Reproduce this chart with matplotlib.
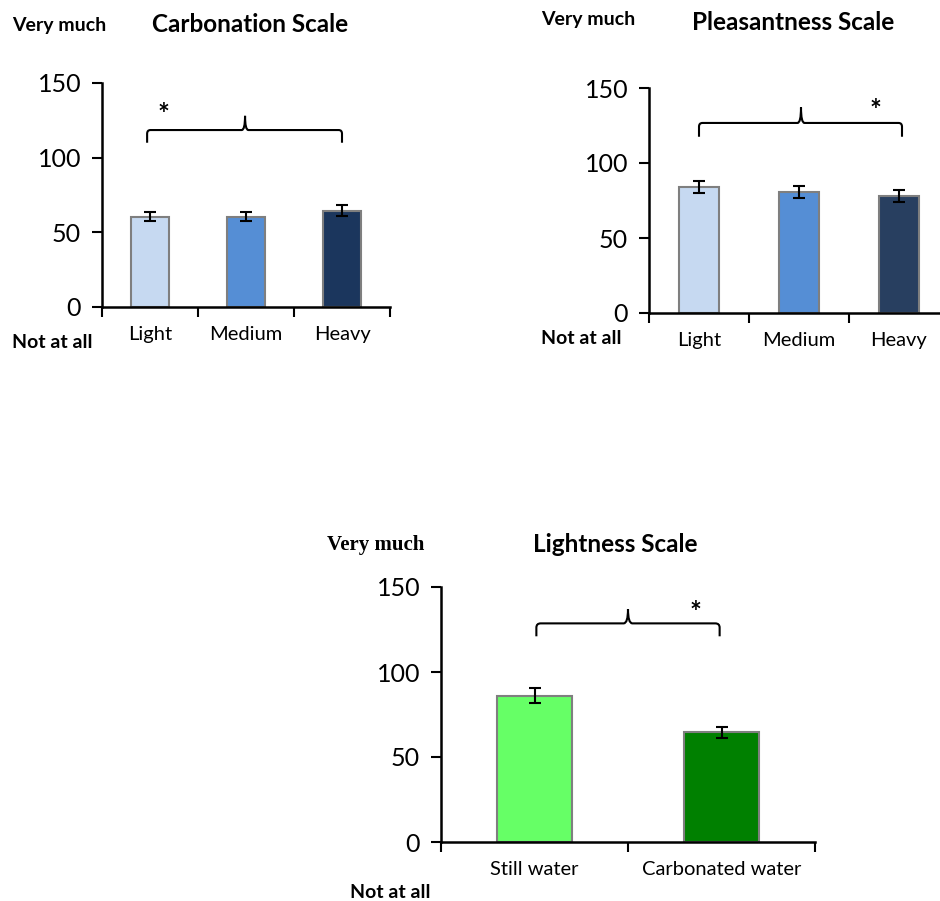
import numpy as np
import matplotlib.pyplot as plt
from matplotlib.path import Path
from matplotlib.patches import PathPatch

# ---------------- dados ----------------
cats_12 = ['Light', 'Medium', 'Heavy']
carb_vals = [60.5, 60.5, 64.5]
carb_err = [3.0, 3.0, 3.5]
pleas_vals = [84, 80.5, 78]
pleas_err = [4.0, 4.0, 4.0]
cats_3 = ['Still water', 'Carbonated water']
light_vals = [86, 64.5]
light_err = [4.3, 3.2]

blues_1 = ['#c6d9f1', '#558ed5', '#1b365d']
blues_2 = ['#c6d9f1', '#558ed5', '#283f60']
greens = ['#66ff66', '#008000']

W, H = 940, 901
FONT = 'Lato'
plt.rcParams['font.family'] = [FONT, 'DejaVu Sans']

fig = plt.figure(figsize=(W / 100, H / 100), dpi=100)


def px_axes(left, right, top, bottom):
    return fig.add_axes([left / W, 1 - bottom / H, (right - left) / W, (bottom - top) / H])


def brace(ax, x0, x1, y, y_end, y_peak, xm):
    rx = 0.035 * (ax.get_xlim()[1] / 3)
    ry = 2.5
    verts = [(x0, y_end), (x0, y - ry), (x0, y), (x0 + rx, y),
             (xm - rx, y), (xm, y), (xm, y_peak),
             (xm, y), (xm + rx, y),
             (x1 - rx, y), (x1, y), (x1, y - ry), (x1, y_end)]
    codes = [Path.MOVETO, Path.LINETO, Path.CURVE3, Path.CURVE3,
             Path.LINETO, Path.CURVE3, Path.CURVE3,
             Path.CURVE3, Path.CURVE3,
             Path.LINETO, Path.CURVE3, Path.CURVE3, Path.LINETO]
    ax.add_patch(PathPatch(Path(verts, codes), fill=False, lw=1.5, color='black',
                           clip_on=False))


def painel(ax, cats, vals, errs, colors, brace_args, star_xy):
    n = len(cats)
    x = np.arange(n) + 0.5
    ax.bar(x, vals, width=0.4, color=colors, edgecolor='#7f7f7f', linewidth=1.5, zorder=2)
    ax.errorbar(x, vals, yerr=errs, fmt='none', ecolor='black', elinewidth=1.5,
                capsize=4, capthick=1.5, zorder=3)
    ax.set_xlim(0, n)
    ax.set_ylim(0, 150)
    ax.set_yticks([0, 50, 100, 150])
    ax.tick_params(axis='y', labelsize=18, length=7, width=1.5, direction='out', pad=8)
    ax.set_xticks(np.arange(n + 1))
    ax.set_xticklabels([])
    ax.tick_params(axis='x', which='major', length=7, width=1.5, direction='out')
    ax.set_xticks(x, minor=True)
    ax.set_xticklabels(cats, minor=True, fontsize=14.5)
    ax.tick_params(axis='x', which='minor', length=0, pad=14)
    for s in ['top', 'right']:
        ax.spines[s].set_visible(False)
    for s in ['left', 'bottom']:
        ax.spines[s].set_linewidth(1.8)
    ax.spines['left'].set_zorder(4)
    brace(ax, *brace_args)
    ax.text(star_xy[0], star_xy[1], '*', fontsize=20, fontweight='bold',
            ha='center', va='center')


ax1 = px_axes(102, 390, 83, 307)
painel(ax1, cats_12, carb_vals, carb_err, blues_1, (0.47, 2.5, 118.5, 110, 128, 1.49), (0.64, 128.6))
ax2 = px_axes(649, 949, 88, 313)
painel(ax2, cats_12, pleas_vals, pleas_err, blues_2, (0.5, 2.53, 126.7, 117.5, 137, 1.52), (2.26, 134.7))
ax3 = px_axes(441, 815, 587, 842)
painel(ax3, cats_3, light_vals, light_err, greens, (0.51, 1.49, 128.6, 121, 137, 1.0), (1.36, 135))


def ftext(x, y, s, **kw):
    fig.text(x / W, 1 - y / H, s, va='center', **kw)


ftext(12, 25, 'Very much', fontsize=14, fontweight='bold')
ftext(250, 25, 'Carbonation Scale', fontsize=17.5, fontweight='bold', ha='center')
ftext(12, 342, 'Not at all', fontsize=14, fontweight='bold')

ftext(541, 20, 'Very much', fontsize=14, fontweight='bold')
ftext(793, 22, 'Pleasantness Scale', fontsize=17.5, fontweight='bold', ha='center')
ftext(541, 338, 'Not at all', fontsize=14, fontweight='bold')

ftext(327, 545, 'Very much', fontsize=15, fontweight='bold', family='Liberation Serif')
ftext(615, 544, 'Lightness Scale', fontsize=17.5, fontweight='bold', ha='center')
ftext(350, 892, 'Not at all', fontsize=14, fontweight='bold')

fig.savefig('out.png', dpi=100)
